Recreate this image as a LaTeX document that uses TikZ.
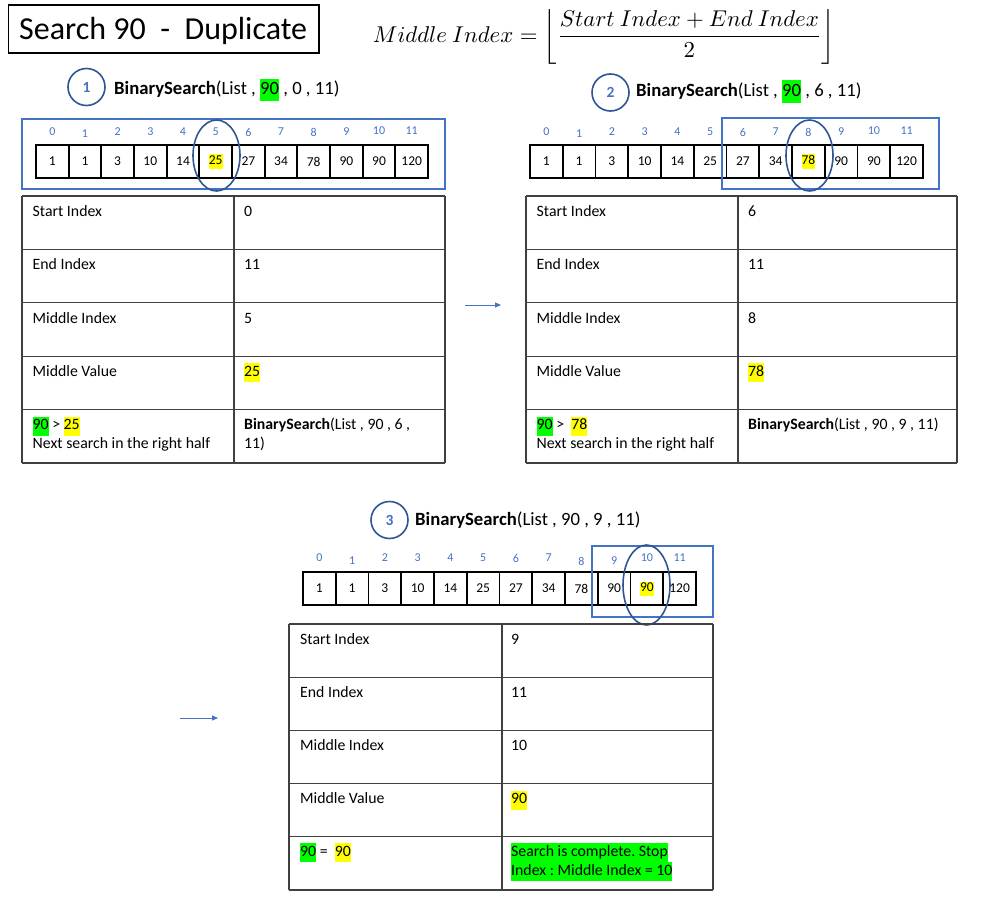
\documentclass[tikz,border=0pt]{standalone}
\usepackage[no-math]{fontspec}
\setmainfont{Carlito}
\usepackage{graphicx}
\usetikzlibrary{shapes.geometric,arrows.meta}
\definecolor{hlgreen}{HTML}{00FF00}
\definecolor{hlyellow}{HTML}{FFFF00}
\definecolor{idxblue}{HTML}{4472C4}
\definecolor{darkblue}{HTML}{2F5597}
\definecolor{gridgray}{HTML}{404040}
\setlength{\fboxsep}{0pt}
\frenchspacing
\newcommand{\hg}[1]{\colorbox{hlgreen}{\strut #1}}
\newcommand{\hy}[1]{\colorbox{hlyellow}{\strut #1}}
\newcommand{\tgrid}[6]{%
  \foreach \k in {0,...,5} \draw[tblline] (#1,{#4+#5*\k}) -- (#3,{#4+#5*\k});
  \draw[tblline] (#1,#4) -- (#1,#6);
  \draw[tblline] (#2,#4) -- (#2,#6);
  \draw[tblline] (#3,#4) -- (#3,#6);}
\begin{document}
\begin{tikzpicture}[x=1pt,y=-1pt,
  tblline/.style={draw=gridgray, line width=1.3pt},
  cellbox/.style={draw=black, line width=1.8pt, minimum width=32.7pt, minimum height=33pt, inner sep=0pt, font=\fontsize{13.5}{14}\selectfont},
  idxlabel/.style={text=idxblue, font=\fontsize{12}{13}\selectfont, inner sep=0pt},
  numcirc/.style={circle, draw=darkblue, line width=1.6pt, minimum size=37pt, inner sep=0pt, text=idxblue, font=\bfseries\fontsize{15.5}{16}\selectfont},
  calltext/.style={anchor=base west, inner sep=0pt, font=\fontsize{18.7}{22.5}\selectfont},
  rangebox/.style={draw=idxblue, line width=1.8pt, inner sep=0pt},
  midell/.style={ellipse, draw=darkblue, line width=1.6pt, minimum width=47pt, inner sep=0pt},
  ttext/.style={anchor=north west, inner sep=0pt, align=left, font=\fontsize{15.8}{19}\selectfont},
  flowarrow/.style={draw=idxblue, line width=0.9pt, -{Triangle[length=6pt,width=5pt]}}]
\useasboundingbox (0,0) rectangle (983,907);

% title and formula
\node[draw, line width=1.6pt, minimum width=310.5pt, minimum height=48pt, inner sep=0pt] (title) at (163.8,29) {};
\node[anchor=base west, inner sep=0pt, font=\fontsize{32}{37}\selectfont] (titletext) at (19,39.3) {Search 90\ \ -\ \ Duplicate};
\node[inner sep=0pt] (formula) at (604,36.5) {\resizebox{462pt}{!}{$\displaystyle Middle\ Index = \left\lfloor\frac{Start\ Index+End\ Index}{2}\right\rfloor$}};

% ---------- step 1 ----------
\node[numcirc] (num1) at (86.5,87) {1};
\node[calltext] (call1) at (114,94.5) {\textbf{BinarySearch}(List , \hg{90} , 0 , 11)};
\foreach \v [count=\j from 0] in {1,1,3,10,14,25,27,34,78,90,90,120}
  \node[cellbox] (a1c\j) at ({52.33+32.67*\j},161.5) {\ifnum\j=5 \hy{\v}\else\v\fi};
\foreach \j/\dy in {0/0,1/2,2/0,3/0,4/0,5/0,6/0,7/0,8/0,9/0,10/-1,11/-1}
  \node[idxlabel] (a1i\j) at ({52.33+32.67*\j},{132+\dy}) {\j};
\node[rangebox, minimum width=423pt, minimum height=70pt] (r1) at (233.5,154) {};
\node[midell, minimum height=71pt] (e1) at (216.5,155.5) {};
\tgrid{22}{234}{445}{196}{53.4}{463}
\node[ttext] (t1a1) at (32.5,202.7) {\strut Start Index};
\node[ttext] (t1b1) at (244,202.7) {\strut 0};
\node[ttext] (t1a2) at (32.5,256.1) {\strut End Index};
\node[ttext] (t1b2) at (244,256.1) {\strut 11};
\node[ttext] (t1a3) at (32.5,309.5) {\strut Middle Index};
\node[ttext] (t1b3) at (244,309.5) {\strut 5};
\node[ttext] (t1a4) at (32.5,362.9) {\strut Middle Value};
\node[ttext] (t1b4) at (244,362.9) {\hy{25}};
\node[ttext] (t1a5) at (32.5,416.3) {\hg{90} > \hy{25}\\\strut Next search in the right half};
\node[ttext] (t1b5) at (244,416.3) {\strut\textbf{BinarySearch}(List , 90 , 6 ,\\\strut 11)};

\coordinate (f1s) at (465,305);
\coordinate (f1e) at (501,305);
\draw[flowarrow] (f1s) -- (f1e);

% ---------- step 2 ----------
\node[numcirc] (num2) at (610.5,92.5) {2};
\node[calltext] (call2) at (636,96) {\textbf{BinarySearch}(List , \hg{90} , 6 , 11)};
\foreach \v [count=\j from 0] in {1,1,3,10,14,25,27,34,78,90,90,120}
  \node[cellbox] (a2c\j) at ({546.37+32.75*\j},161.5) {\ifnum\j=8 \hy{\v}\else\v\fi};
\foreach \j/\dy in {0/0,1/2,2/0,3/0,4/0,5/0,6/0,7/0,8/0,9/0,10/-1,11/-1}
  \node[idxlabel] (a2i\j) at ({546.37+32.75*\j},{132+\dy}) {\j};
\node[rangebox, minimum width=217pt, minimum height=71pt] (r2) at (830.5,153.5) {};
\node[midell, minimum height=71pt] (e2) at (809.5,155.5) {};
\tgrid{526}{738}{957}{196}{53.4}{463}
\node[ttext] (t2a1) at (536.5,202.7) {\strut Start Index};
\node[ttext] (t2b1) at (748,202.7) {\strut 6};
\node[ttext] (t2a2) at (536.5,256.1) {\strut End Index};
\node[ttext] (t2b2) at (748,256.1) {\strut 11};
\node[ttext] (t2a3) at (536.5,309.5) {\strut Middle Index};
\node[ttext] (t2b3) at (748,309.5) {\strut 8};
\node[ttext] (t2a4) at (536.5,362.9) {\strut Middle Value};
\node[ttext] (t2b4) at (748,362.9) {\hy{78}};
\node[ttext] (t2a5) at (536.5,416.3) {\hg{90} > \ \hy{78}\\\strut Next search in the right half};
\node[ttext] (t2b5) at (748,416.3) {\strut\textbf{BinarySearch}(List , 90 , 9 , 11)};

\coordinate (f2s) at (180,718);
\coordinate (f2e) at (218,718);
\draw[flowarrow] (f2s) -- (f2e);

% ---------- step 3 ----------
\node[numcirc] (num3) at (389.5,520) {3};
\node[calltext] (call3) at (415,525) {\textbf{BinarySearch}(List , 90 , 9 , 11)};
\foreach \v/\dy [count=\j from 0] in {1/0,1/2,3/0,10/0,14/2,25/0,27/0,34/0,78/0,90/0,90/0,120/0}
  \node[cellbox] (a3c\j) at ({319.37+32.75*\j},588.5) {\ifnum\j=10 \hy{\v}\else\raisebox{-\dy pt}{\v}\fi};
\foreach \j/\dy in {0/0,1/3,2/0,3/0,4/0,5/0,6/0,7/0,8/3,9/3,10/0,11/0}
  \node[idxlabel] (a3i\j) at ({319.37+32.75*\j},{558+\dy}) {\j};
\node[rangebox, minimum width=121pt, minimum height=71pt] (r3) at (652.5,581.5) {};
\node[midell, minimum height=80pt] (e3) at (646.5,585) {};
\tgrid{289}{502}{713}{624}{53.2}{890}
\node[ttext] (t3a1) at (300,630.7) {\strut Start Index};
\node[ttext] (t3b1) at (511,630.7) {\strut 9};
\node[ttext] (t3a2) at (300,683.9) {\strut End Index};
\node[ttext] (t3b2) at (511,683.9) {\strut 11};
\node[ttext] (t3a3) at (300,737.1) {\strut Middle Index};
\node[ttext] (t3b3) at (511,737.1) {\strut 10};
\node[ttext] (t3a4) at (300,790.3) {\strut Middle Value};
\node[ttext] (t3b4) at (511,790.3) {\hy{90}};
\node[ttext] (t3a5) at (300,842.5) {\hg{90} = \ \hy{90}};
\node[ttext] (t3b5) at (511,842.5) {\hg{Search is complete. Stop}\\\hg{Index : Middle Index = 10}};
\end{tikzpicture}
\end{document}
